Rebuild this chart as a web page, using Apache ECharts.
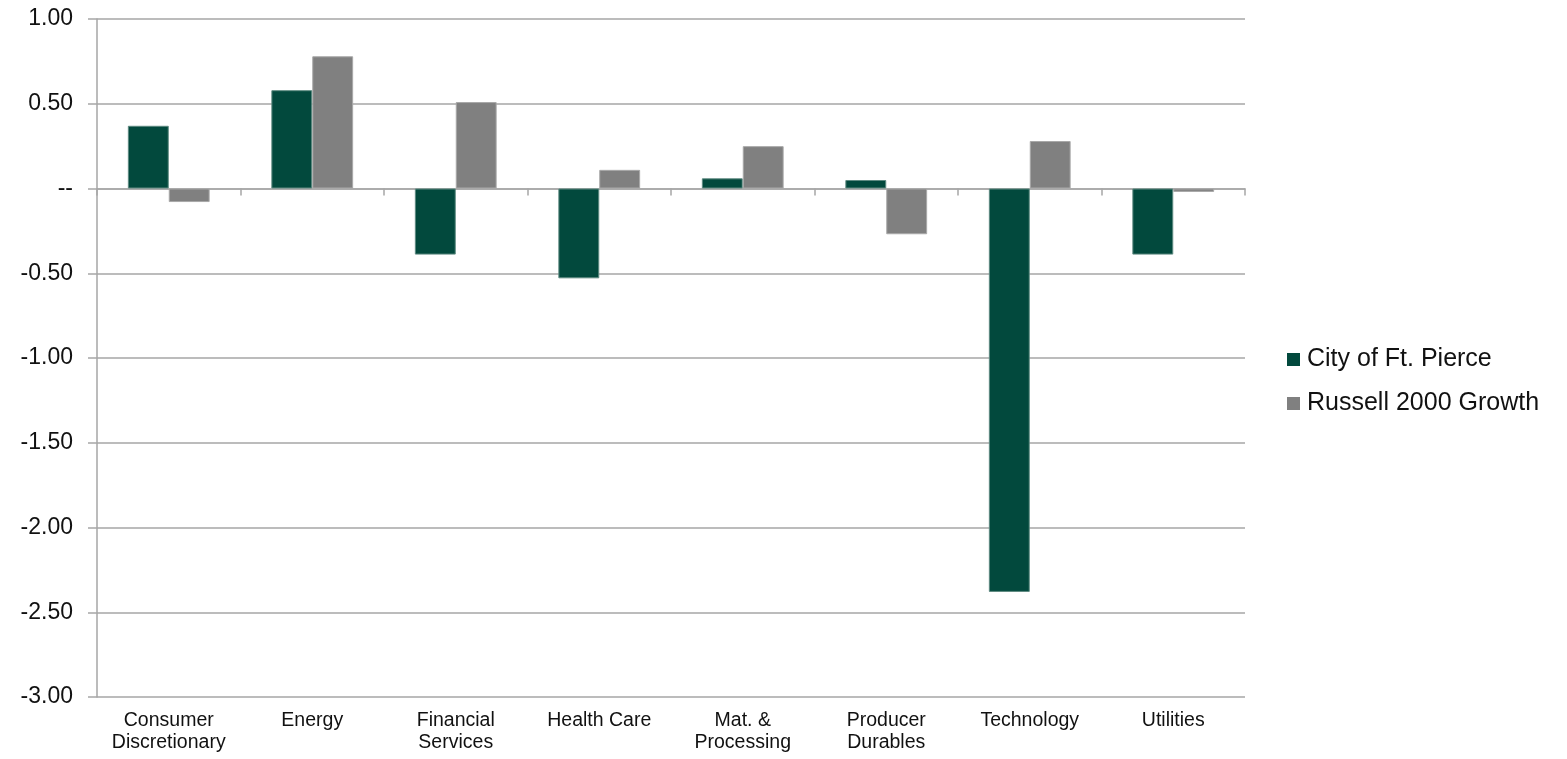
<!DOCTYPE html>
<html>
<head>
<meta charset="utf-8">
<title>Sector attribution</title>
<script src="https://cdn.jsdelivr.net/npm/echarts@6/dist/echarts.min.js"></script>
<style>
  html, body { margin: 0; padding: 0; background: #ffffff; }
  #chart { width: 1567px; height: 759px; }
</style>
</head>
<body>
<div id="chart"></div>
<script>
// Sector categories (line breaks as shown on the axis)
const categories = [
  'Consumer\nDiscretionary', 'Energy', 'Financial\nServices', 'Health Care',
  'Mat. &\nProcessing', 'Producer\nDurables', 'Technology', 'Utilities'
];

// Series values
const cityOfFtPierce = [0.37, 0.58, -0.39, -0.53, 0.06, 0.05, -2.38, -0.39];
const russell2000Growth = [-0.08, 0.78, 0.51, 0.11, 0.25, -0.27, 0.28, -0.02];

// Value axis range
const yMin = -3.0;
const yMax = 1.0;
const yStep = 0.5;

const FONT = '"Liberation Sans", Arial, sans-serif';
const GRID_COLOR = '#a6a6a6';
const TEXT_COLOR = '#111111';

const chart = echarts.init(document.getElementById('chart'), null, { renderer: 'canvas' });

chart.setOption({
  backgroundColor: '#ffffff',
  animation: false,
  textStyle: { fontFamily: FONT, color: TEXT_COLOR },
  grid: { left: 97, right: 322, top: 19, bottom: 62, containLabel: false },
  legend: {
    orient: 'vertical',
    left: 1282,
    top: 342,
    itemWidth: 13,
    itemHeight: 13,
    itemGap: 19,
    icon: 'rect',
    itemStyle: { borderWidth: 0 },
    textStyle: { fontFamily: FONT, fontSize: 25, color: TEXT_COLOR, padding: [0, 0, 0, 2] },
    data: ['City of Ft. Pierce', 'Russell 2000 Growth']
  },
  xAxis: [
    {
      // axis line and ticks drawn along the zero line
      type: 'category',
      data: categories,
      axisLine: { onZero: true, lineStyle: { color: GRID_COLOR, width: 1.5 } },
      axisTick: { show: true, length: 7, lineStyle: { color: GRID_COLOR, width: 1.5 } },
      axisLabel: { show: false },
      splitLine: { show: false }
    },
    {
      // category labels along the bottom edge
      type: 'category',
      data: categories,
      position: 'bottom',
      axisLine: { show: false, onZero: false },
      axisTick: { show: false },
      axisLabel: {
        show: true,
        margin: 13,
        fontFamily: FONT,
        fontSize: 19.5,
        lineHeight: 22,
        color: TEXT_COLOR,
        interval: 0,
        align: 'center',
        verticalAlign: 'top'
      },
      splitLine: { show: false }
    }
  ],
  yAxis: {
    type: 'value',
    min: yMin,
    max: yMax,
    interval: yStep,
    axisLine: { show: true, lineStyle: { color: GRID_COLOR, width: 1.5 } },
    axisTick: { show: true, length: 9, lineStyle: { color: GRID_COLOR, width: 1.5 } },
    splitLine: { show: true, lineStyle: { color: GRID_COLOR, width: 1.5 } },
    axisLabel: {
      margin: 24,
      fontFamily: FONT,
      fontSize: 23,
      color: TEXT_COLOR,
      formatter: function (v) {
        if (Math.abs(v) < 1e-9) return '--';
        return v.toFixed(2);
      }
    }
  },
  series: [
    {
      name: 'City of Ft. Pierce',
      type: 'bar',
      xAxisIndex: 0,
      data: cityOfFtPierce,
      barGap: '0%',
      barCategoryGap: '43%',
      itemStyle: { color: '#02493d', borderColor: '#5e8a81', borderWidth: 1 }
    },
    {
      name: 'Russell 2000 Growth',
      type: 'bar',
      xAxisIndex: 0,
      data: russell2000Growth,
      barGap: '0%',
      barCategoryGap: '43%',
      itemStyle: { color: '#808080', borderColor: '#a8a8a8', borderWidth: 1 }
    }
  ]
});
</script>
</body>
</html>
